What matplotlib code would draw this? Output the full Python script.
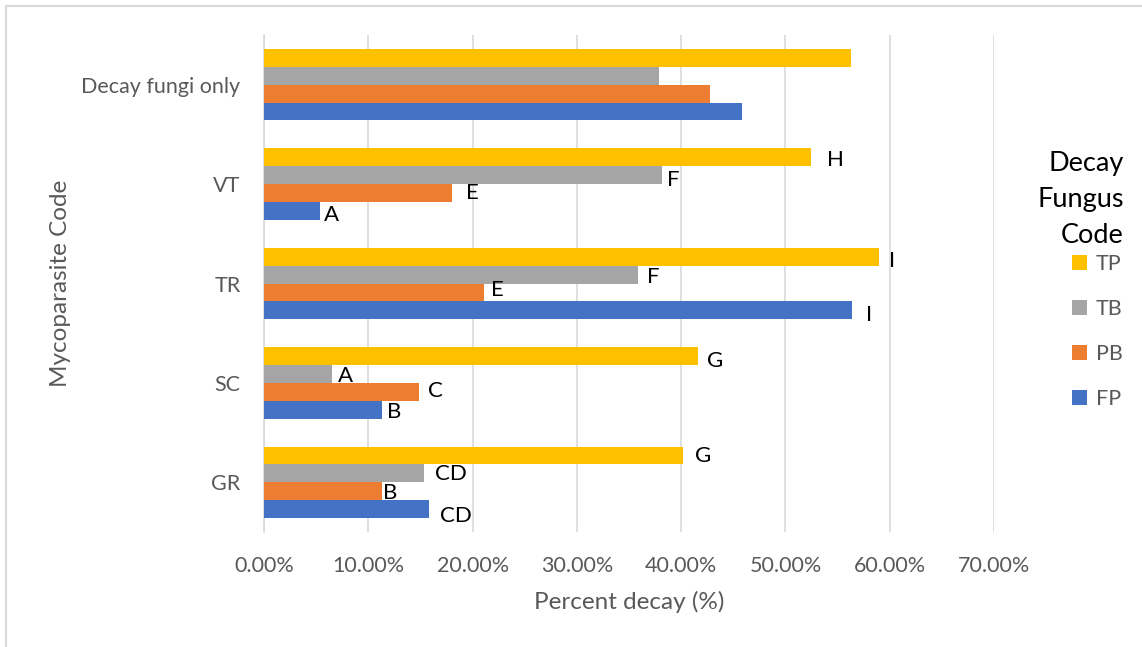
import matplotlib
matplotlib.use("Agg")
import matplotlib.pyplot as plt
from matplotlib.patches import Rectangle
from matplotlib.ticker import FuncFormatter
import numpy as np

plt.rcParams['font.family'] = ['Lato', 'DejaVu Sans']

# Mycoparasite treatments (bottom to top)
categories = ["GR", "SC", "TR", "VT", "Decay fungi only"]

# Percent decay (fraction) for each decay fungus
fp = [0.158, 0.113, 0.564, 0.054, 0.458]
pb = [0.113, 0.149, 0.211, 0.180, 0.428]
tb = [0.153, 0.065, 0.359, 0.382, 0.379]
tp = [0.402, 0.416, 0.590, 0.525, 0.563]

# Significance letters per bar (None where no letter is shown)
fp_letters = ["CD", "B", "I", "A", None]
pb_letters = ["B", "C", "E", "E", None]
tb_letters = ["CD", "A", "F", "F", None]
tp_letters = ["G", "G", "I", "H", None]

series_names = ["FP", "PB", "TB", "TP"]
series_values = [fp, pb, tb, tp]
series_letters = [fp_letters, pb_letters, tb_letters, tp_letters]
colors = ["#4472C4", "#ED7D31", "#A5A5A5", "#FFC000"]

# Letter offsets in pixels (dx, dy) so they sit just right of each bar end
letter_offsets = [
    [(11, -7), (5, -2), (14, -5), (4, -4), (0, 0)],   # FP
    [(1, -2), (9, 1), (7, 2), (14, 0), (0, 0)],       # PB
    [(11, -1), (6, -2), (9, -2), (5, -5), (0, 0)],    # TB
    [(12, -1), (9, -5), (10, -4), (16, -3), (0, 0)],  # TP
]

W, H = 1142, 647
fig = plt.figure(figsize=(W / 100, H / 100), dpi=100)
ax = fig.add_axes([264 / W, 1 - 532 / H, (994 - 264) / W, (532 - 35) / H])

# Outer chart frame
fig.patches.append(Rectangle((6 / W, -0.1), 1.2, 1 - 6 / H + 0.1,
                             transform=fig.transFigure, fill=False,
                             edgecolor="#D9D9D9", linewidth=1.5))

y = np.arange(len(categories))
bh = 0.18
handles = []
for i, (name, vals, letters, col, offs) in enumerate(
        zip(series_names, series_values, series_letters, colors, letter_offsets)):
    pos = y + (i - 1.5) * bh
    bars = ax.barh(pos, vals, height=bh, color=col, label=name, zorder=3)
    handles.append(bars)
    for xv, yv, lt, (dx, dy) in zip(vals, pos, letters, offs):
        if lt:
            ax.annotate(lt, (xv, yv), xytext=(dx, dy), textcoords="offset pixels",
                        ha="left", va="center", fontsize=16, color="black",
                        zorder=4)

ax.set_xlim(0, 0.70)
ax.set_ylim(-0.5, len(categories) - 0.5)
ax.set_xticks(np.arange(0, 0.71, 0.10))
ax.xaxis.set_major_formatter(FuncFormatter(lambda v, p: f"{v * 100:.2f}%"))
ax.set_yticks(y)
ax.set_yticklabels(categories)
ax.grid(axis="x", color="#D9D9D9", linewidth=1.2, zorder=0)
for s in ["top", "right", "bottom"]:
    ax.spines[s].set_visible(False)
ax.spines["left"].set_color("#D9D9D9")
ax.spines["left"].set_linewidth(1.2)
ax.tick_params(axis="both", length=0, labelsize=15.5, colors="#595959")
ax.tick_params(axis="x", pad=17)
ax.tick_params(axis="y", pad=17)

ax.set_xlabel("Percent decay (%)", fontsize=17.5, color="#595959", labelpad=11)
ax.set_ylabel("Mycoparasite Code", fontsize=17.5, color="#595959")
ax.yaxis.set_label_coords(-(264 - 71) / (994 - 264), 0.5)

# Legend title, right-aligned above the entries
fig.text(1124 / W, 1 - 151 / H, "Decay\nFungus\nCode", ha="right", va="top",
         fontsize=19.5, color="black", linespacing=1.55, multialignment="right")

leg = ax.legend(handles[::-1], series_names[::-1],
                loc="upper left", bbox_to_anchor=(1068 / W, 1 - 250 / H),
                bbox_transform=fig.transFigure, frameon=False, borderaxespad=0,
                fontsize=15.5, labelspacing=1.15,
                handlelength=0.7, handleheight=0.7, handletextpad=0.4,
                borderpad=0.2, labelcolor="#595959")

fig.savefig("out.png", dpi=100, facecolor="white")
